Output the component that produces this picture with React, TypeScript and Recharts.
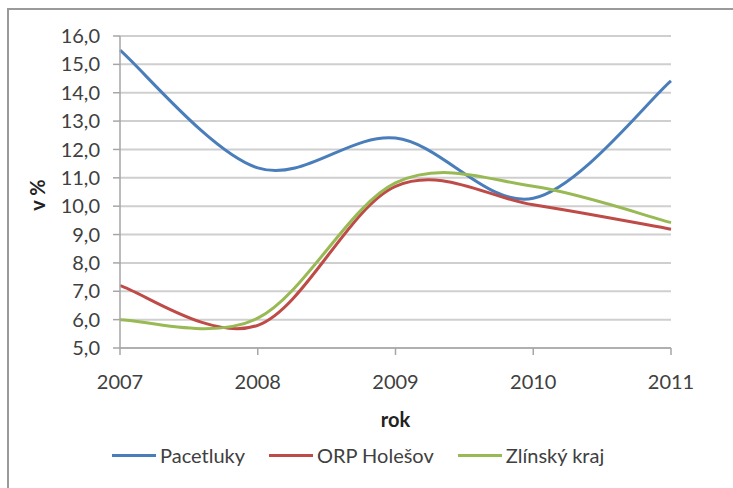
import { CartesianGrid, Line, LineChart, XAxis, YAxis } from "recharts";

const years = ["2007", "2008", "2009", "2010", "2011"];
const pacetluky = [15.5, 11.35, 12.4, 10.28, 14.42];
const orpHolesov = [7.2, 5.8, 10.7, 10.05, 9.19];
const zlinskyKraj = [6.0, 6.05, 10.82, 10.7, 9.42];
const yTicks = [5, 6, 7, 8, 9, 10, 11, 12, 13, 14, 15, 16];

const seriesInfo = [
  { key: "pacetluky", name: "Pacetluky", color: "#4a7ebb" },
  { key: "orp", name: "ORP Holešov", color: "#be4b48" },
  { key: "zlin", name: "Zlínský kraj", color: "#98b954" },
];

const chartData = years.map((y, i) => ({
  year: y,
  pacetluky: pacetluky[i],
  orp: orpHolesov[i],
  zlin: zlinskyKraj[i],
}));

// excel-ish smoothed line (catmull-rom through the points)
const smoothCurve = (context: any) => {
  let xs: number[] = [];
  let ys: number[] = [];
  return {
    areaStart() {},
    areaEnd() {},
    lineStart() {
      xs = [];
      ys = [];
    },
    lineEnd() {
      const n = xs.length;
      if (!n) return;
      context.moveTo(xs[0], ys[0]);
      for (let i = 0; i < n - 1; i++) {
        const p = Math.max(i - 1, 0);
        const q = Math.min(i + 2, n - 1);
        context.bezierCurveTo(
          xs[i] + (xs[i + 1] - xs[p]) / 6,
          ys[i] + (ys[i + 1] - ys[p]) / 6,
          xs[i + 1] - (xs[q] - xs[i]) / 6,
          ys[i + 1] - (ys[q] - ys[i]) / 6,
          xs[i + 1],
          ys[i + 1]
        );
      }
    },
    point(x: number, y: number) {
      xs.push(+x);
      ys.push(+y);
    },
  };
};

const font = "Lato, 'Open Sans', sans-serif";
const textColor = "#404040";

const LegendBox = () => (
  <div
    style={{
      position: "absolute",
      left: 112,
      top: 443,
      display: "flex",
      alignItems: "center",
      fontFamily: font,
      fontSize: 20,
      color: textColor,
    }}
  >
    {seriesInfo.map((s) => (
      <div key={s.key} style={{ display: "flex", alignItems: "center", marginRight: 24 }}>
        <span style={{ display: "inline-block", width: 44, height: 3, background: s.color, marginRight: 4 }} />
        <span>{s.name}</span>
      </div>
    ))}
  </div>
);

export default function App() {
  return (
    <div style={{ position: "fixed", left: 0, top: 0, width: 733, height: 488, background: "#fff", overflow: "hidden" }}>
      <div
        style={{
          position: "absolute",
          left: 7,
          top: 8,
          width: 740,
          height: 490,
          borderTop: "2px solid #9a9a9a",
          borderLeft: "2px solid #9a9a9a",
        }}
      />
      <LineChart width={733} height={488} data={chartData} margin={{ top: 36, right: 62, left: 0, bottom: 80 }}>
        <CartesianGrid vertical={false} stroke="#cfcfcf" strokeWidth={2} />
        <XAxis
          dataKey="year"
          height={60}
          axisLine={{ stroke: "#a6a6a6", strokeWidth: 1.5 }}
          tickLine={{ stroke: "#a6a6a6", strokeWidth: 1.5 }}
          tickSize={7}
          tick={{ fontFamily: font, fontSize: 20, fill: textColor, dy: 18 }}
          label={{
            value: "rok",
            position: "insideBottom",
            offset: -19,
            style: { fontFamily: font, fontSize: 20, fontWeight: 700, fill: "#222" },
          }}
        />
        <YAxis
          width={120}
          domain={[5, 16]}
          ticks={yTicks}
          interval={0}
          tickFormatter={(v: number) => v.toFixed(1).replace(".", ",")}
          axisLine={{ stroke: "#a6a6a6", strokeWidth: 1.5 }}
          tickLine={{ stroke: "#a6a6a6", strokeWidth: 1.5 }}
          tickSize={7}
          tickMargin={13}
          tick={{ fontFamily: font, fontSize: 20, fill: textColor }}
          label={() => (
            <text
              x={45}
              y={195}
              transform="rotate(-90 45 195)"
              textAnchor="middle"
              style={{ fontFamily: font, fontSize: 20, fontWeight: 700, fill: "#222" }}
            >
              v %
            </text>
          )}
        />
        {seriesInfo.map((s) => (
          <Line
            key={s.key}
            dataKey={s.key}
            name={s.name}
            type={smoothCurve as any}
            stroke={s.color}
            strokeWidth={3}
            dot={false}
            activeDot={false}
            isAnimationActive={false}
          />
        ))}
      </LineChart>
      <LegendBox />
    </div>
  );
}
